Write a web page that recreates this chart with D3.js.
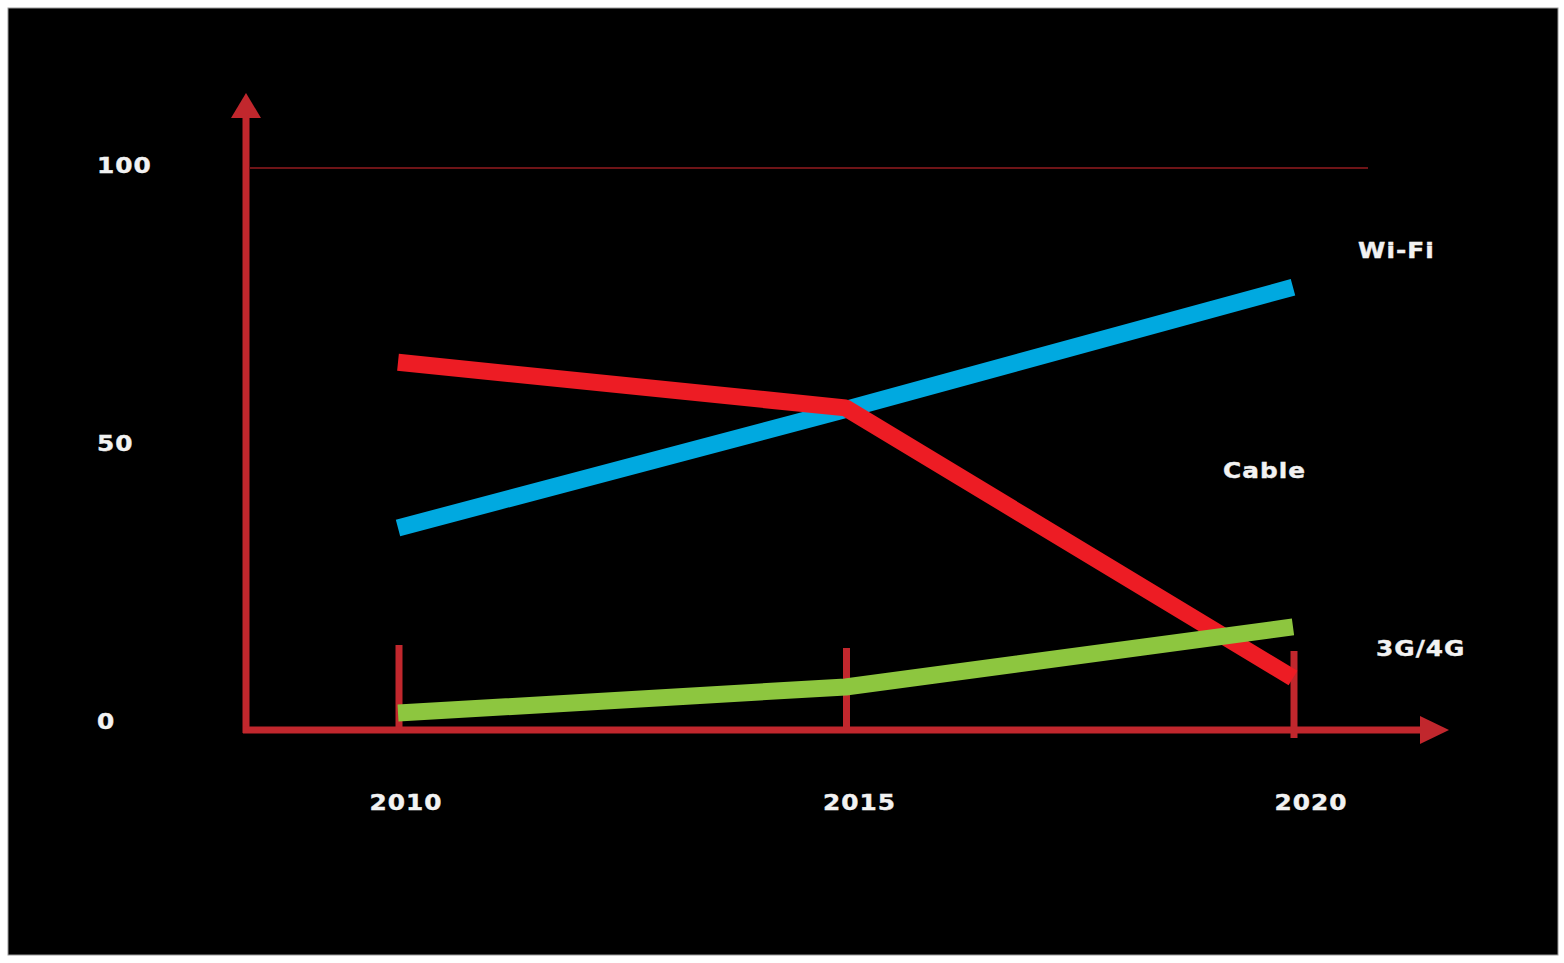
<!DOCTYPE html>
<html>
<head>
<meta charset="utf-8">
<script src="https://cdn.jsdelivr.net/npm/d3@7"></script>
<style>
  html,body{margin:0;padding:0;background:#fff;}
  svg{display:block;}
  text{font-family:"DejaVu Sans",Verdana,sans-serif;font-weight:bold;fill:#f2f2f2;
       stroke:#f2f2f2;stroke-width:0.4px;}
</style>
</head>
<body>
<svg id="chart" width="1564" height="963"></svg>
<script>
/* ---------- data ---------- */
const years  = [2010, 2015, 2020];
const wifi   = [34.9, 56.2, 78.2];
const cable  = [64.7, 56.5, 7.9];
const mobile = [1.6, 6.3, 17.1];
const yTicks = [0, 50, 100];
const seriesNames  = ["Wi-Fi", "Cable", "3G/4G"];
const seriesColors = ["#00a9e0", "#ed1c24", "#8dc63f"];

/* ---------- layout ---------- */
const AX = "#c1272d";
const FS = 21, SX = 1.18, LS = 0.9;   // font size, horizontal stretch, spacing
const svg = d3.select("#chart");

svg.append("rect").attr("x",8).attr("y",8).attr("width",1550).attr("height",947)
   .attr("fill","#000").attr("stroke","#9a9a9a").attr("stroke-width",1);

const x = d3.scaleLinear().domain([2010,2020]).range([398,1293]);
const y = d3.scaleLinear().domain([0,100]).range([722,166]);
const x0 = 246, yBase = 730;

// wide bold label helper
function label(sel, fx, fy, anchor){
  sel.attr("transform",(d,i)=>`translate(${fx(d,i)},${fy(d,i)}) scale(${SX},1)`)
     .attr("text-anchor",anchor).attr("dominant-baseline","central")
     .attr("font-size",FS).attr("letter-spacing",LS);
}

/* gridline at 100 */
svg.append("line").attr("x1",x0+4).attr("x2",1368)
   .attr("y1",y(100)+2).attr("y2",y(100)+2)
   .attr("stroke","#6e1417").attr("stroke-width",2);

/* y tick labels */
svg.selectAll(".ylab").data(yTicks).join("text").attr("class","ylab")
   .call(label, ()=>97, d=>y(d), "start")
   .text(d=>d);

/* x tick marks */
const tickTop = [645, 648, 651], tickBot = [731, 728, 738];
svg.selectAll(".xtick").data(years).join("line").attr("class","xtick")
   .attr("x1",d=>x(d)+1).attr("x2",d=>x(d)+1)
   .attr("y1",(d,i)=>tickTop[i]).attr("y2",(d,i)=>tickBot[i])
   .attr("stroke",AX).attr("stroke-width",7);

/* x tick labels */
const labShift = [8, 14, 18];
svg.selectAll(".xlab").data(years).join("text").attr("class","xlab")
   .call(label, (d,i)=>x(d)+labShift[i], ()=>803, "middle")
   .text(d=>d);

/* series lines */
const line = d3.line().x((d,i)=>x(years[i])).y(d=>y(d));
const series = [wifi, cable, mobile];
svg.selectAll(".series").data(series).join("path").attr("class","series")
   .attr("d",d=>line(d)).attr("fill","none")
   .attr("stroke",(d,i)=>seriesColors[i]).attr("stroke-width",17)
   .attr("stroke-linejoin","round").attr("stroke-linecap","butt");

/* series labels */
const labPos = [[1358,251],[1223,471],[1376,649]];
svg.selectAll(".slab").data(seriesNames).join("text").attr("class","slab")
   .call(label, (d,i)=>labPos[i][0], (d,i)=>labPos[i][1], "start")
   .text(d=>d);

/* axes with arrows */
svg.append("line").attr("x1",x0).attr("x2",x0).attr("y1",yBase+3).attr("y2",112)
   .attr("stroke",AX).attr("stroke-width",7);
svg.append("path").attr("d",`M${x0},93 L${x0+15},118 L${x0-15},118 Z`).attr("fill",AX);

svg.append("line").attr("x1",x0-3).attr("x2",1428).attr("y1",yBase).attr("y2",yBase)
   .attr("stroke",AX).attr("stroke-width",7);
svg.append("path").attr("d",`M1449,${yBase} L1420,${yBase-14} L1420,${yBase+14} Z`).attr("fill",AX);
</script>
</body>
</html>
